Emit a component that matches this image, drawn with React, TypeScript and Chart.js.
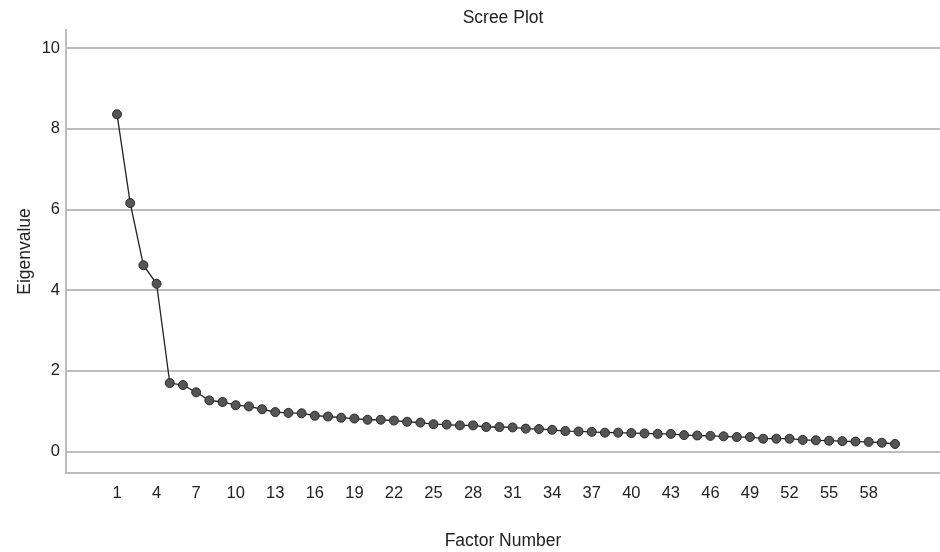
import React, { useEffect, useRef } from "react";
import { Chart, registerables } from "chart.js";

Chart.register(...registerables);

const factorNumbers: number[] = Array.from({ length: 60 }, (_, i) => i + 1);
const eigenvalues: number[] = [
  8.36, 6.16, 4.62, 4.16, 1.7, 1.65, 1.47, 1.27, 1.23, 1.15,
  1.12, 1.05, 0.98, 0.96, 0.95, 0.89, 0.87, 0.84, 0.82, 0.79,
  0.79, 0.77, 0.74, 0.72, 0.68, 0.67, 0.65, 0.65, 0.61, 0.61,
  0.6, 0.57, 0.56, 0.54, 0.51, 0.5, 0.49, 0.47, 0.47, 0.46,
  0.45, 0.44, 0.44, 0.41, 0.4, 0.39, 0.38, 0.36, 0.36, 0.32,
  0.32, 0.32, 0.29, 0.28, 0.27, 0.26, 0.25, 0.24, 0.22, 0.19,
];
const xTickValues: number[] = [1, 4, 7, 10, 13, 16, 19, 22, 25, 28, 31, 34, 37, 40, 43, 46, 49, 52, 55, 58];
const yTickValues: number[] = [0, 2, 4, 6, 8, 10];

const FONT = "'Liberation Sans', Arial, sans-serif";

export default function App() {
  const ref = useRef<HTMLCanvasElement | null>(null);

  useEffect(() => {
    document.body.style.margin = "0";
    document.body.style.overflow = "hidden";
    const canvas = ref.current;
    if (!canvas) return;
    const chart = new Chart(canvas, {
      type: "line",
      data: {
        datasets: [
          {
            label: "Eigenvalue",
            data: factorNumbers.map((f, i) => ({ x: f, y: eigenvalues[i] })),
            borderColor: "#222222",
            borderWidth: 1.3,
            pointRadius: 4.5,
            pointBackgroundColor: "#555555",
            pointBorderColor: "#2a2a2a",
            pointBorderWidth: 1,
            tension: 0,
          },
        ],
      },
      options: {
        responsive: false,
        animation: false,
        layout: { padding: 0, autoPadding: false },
        plugins: {
          legend: { display: false },
          title: { display: false },
          tooltip: { enabled: false },
        },
        scales: {
          x: {
            type: "linear",
            position: "bottom",
            min: -2.87,
            max: 63.41,
            grid: { display: false, drawTicks: false },
            border: { display: true, color: "#bdbdbd", width: 2 },
            afterBuildTicks: (scale: any) => {
              scale.ticks = xTickValues.map((v) => ({ value: v }));
            },
            afterFit: (scale: any) => {
              scale.height = 79;
            },
            ticks: {
              autoSkip: false,
              maxRotation: 0,
              padding: 11,
              color: "#222222",
              font: { family: FONT, size: 16.5 },
              callback: (v: any) => String(v),
            },
            title: {
              display: true,
              text: "Factor Number",
              color: "#222222",
              font: { family: FONT, size: 17.5 },
              padding: { top: 0, bottom: 0 },
            },
          },
          top: {
            type: "linear",
            position: "top",
            min: 0,
            max: 1,
            grid: { display: false, drawTicks: false },
            border: { display: false },
            ticks: { display: false },
            afterFit: (scale: any) => {
              scale.height = 30;
            },
            title: {
              display: true,
              text: "Scree Plot",
              color: "#222222",
              font: { family: FONT, size: 17.5 },
              padding: { top: 8, bottom: 0 },
            },
          },
          y: {
            type: "linear",
            min: -0.53,
            max: 10.45,
            afterBuildTicks: (scale: any) => {
              scale.ticks = yTickValues.map((v) => ({ value: v }));
            },
            afterFit: (scale: any) => {
              scale.width = 66;
            },
            grid: { color: "#bdbdbd", lineWidth: 2, drawTicks: false },
            border: { display: true, color: "#bdbdbd", width: 2 },
            ticks: {
              padding: 6,
              color: "#222222",
              font: { family: FONT, size: 16.5 },
              callback: (v: any) => String(v),
            },
            title: {
              display: true,
              text: "Eigenvalue",
              color: "#222222",
              font: { family: FONT, size: 17.5 },
              padding: { top: 14.5, bottom: 0 },
            },
          },
        },
      },
    });
    return () => chart.destroy();
  }, []);

  return (
    <canvas ref={ref} width={940} height={552} style={{ display: "block", width: 940, height: 552 }} />
  );
}
